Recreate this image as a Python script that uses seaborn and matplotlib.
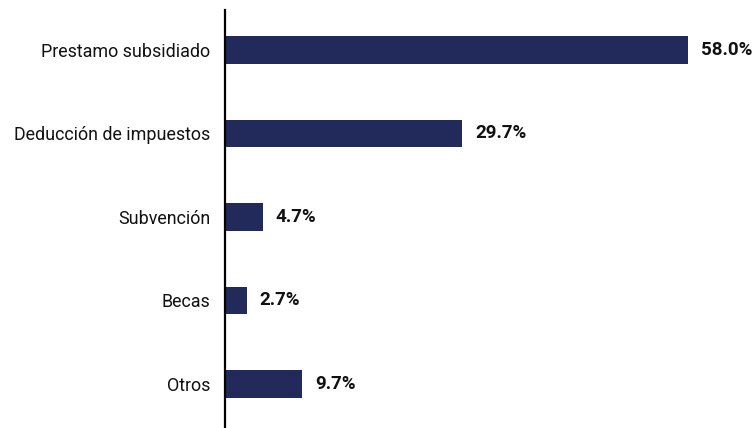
import matplotlib
matplotlib.use("Agg")
import matplotlib.pyplot as plt
import seaborn as sns
import pandas as pd

categories = ["Prestamo subsidiado", "Deducción de impuestos", "Subvención", "Becas", "Otros"]
values = [58.0, 29.7, 4.7, 2.7, 9.7]
labels = ["58.0%", "29.7%", "4.7%", "2.7%", "9.7%"]

df = pd.DataFrame({"categoria": categories, "valor": values})

sns.set_style("white")
plt.rcParams["font.family"] = ["Roboto", "DejaVu Sans"]

fig = plt.figure(figsize=(7.53, 4.28), dpi=100)
ax = fig.add_axes([225 / 753, 0, 527 / 753, 418 / 428])

sns.barplot(data=df, x="valor", y="categoria", color="#212a5a", saturation=1,
            width=0.33, linewidth=0, ax=ax)

for i, (v, lab) in enumerate(zip(values, labels)):
    ax.annotate(lab, xy=(v, i), xytext=(9.5, 0), textcoords="offset points",
                va="center", ha="left", fontsize=13.5, fontweight="bold", color="#111111")

ax.set_xlim(0, 66)
ax.set_ylim(4.527, -0.479)
ax.set_xlabel("")
ax.set_ylabel("")
ax.set_xticks([])
ax.tick_params(axis="y", length=0, pad=10.5, labelsize=12.9, labelcolor="#111111")
for side in ["top", "right", "bottom"]:
    ax.spines[side].set_visible(False)
ax.spines["left"].set_color("black")
ax.spines["left"].set_linewidth(1.6)

fig.savefig("out.png", dpi=100)
